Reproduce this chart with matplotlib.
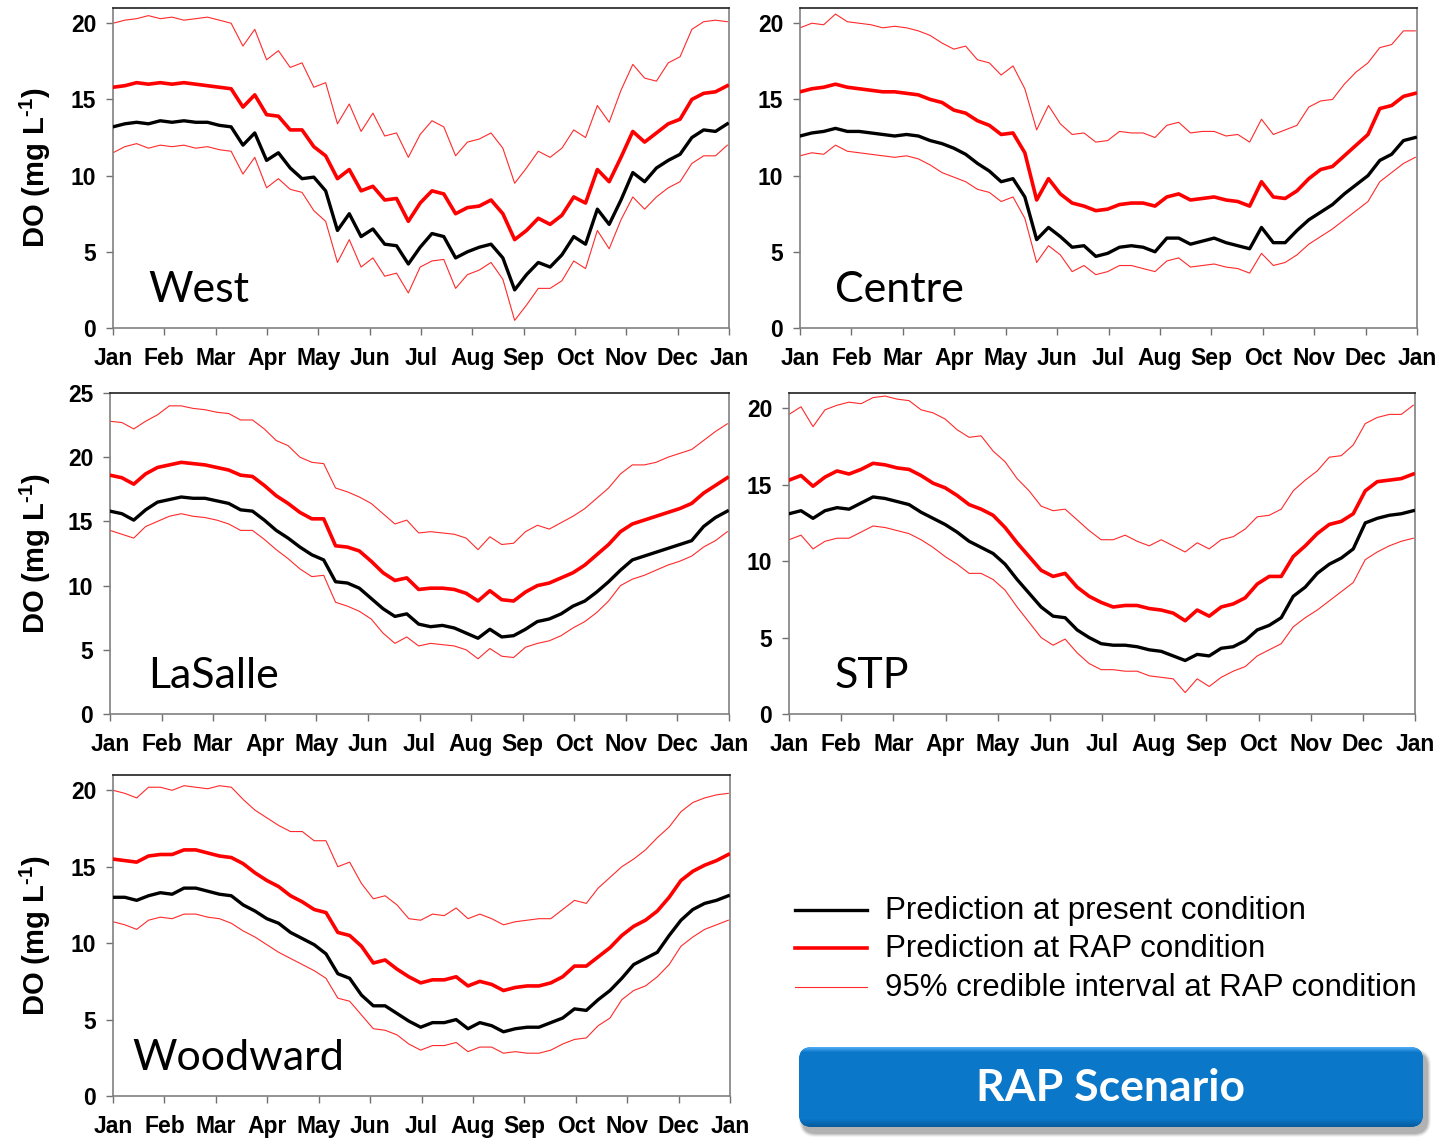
import numpy as np
import matplotlib
matplotlib.use("Agg")
import matplotlib.pyplot as plt
from matplotlib.patches import FancyBboxPatch
from matplotlib.lines import Line2D

plt.rcParams['font.family'] = ['Liberation Sans', 'DejaVu Sans']
plt.rcParams['mathtext.fontset'] = 'custom'
plt.rcParams['mathtext.bf'] = 'Liberation Sans:bold'
plt.rcParams['mathtext.rm'] = 'Liberation Sans:bold'
plt.rcParams['mathtext.default'] = 'bf'

# ---------------------------------------------------------------- data
# weekly samples over one year (day of year)
days = np.arange(0, 365, 7)
month_labels = ["Jan", "Feb", "Mar", "Apr", "May", "Jun", "Jul",
                "Aug", "Sep", "Oct", "Nov", "Dec", "Jan"]

west_present = [13.2, 13.4, 13.5, 13.4, 13.6, 13.5, 13.6, 13.5, 13.5, 13.3, 13.2,
                12.0, 12.8, 11.0, 11.5, 10.5, 9.8, 9.9, 9.0, 6.4, 7.5,
                6.0, 6.5, 5.5, 5.4, 4.2, 5.3, 6.2, 6.0, 4.6, 5.0,
                5.3, 5.5, 4.6, 2.5, 3.5, 4.3, 4.0, 4.8, 6.0, 5.5,
                7.8, 6.8, 8.4, 10.2, 9.6, 10.5, 11.0, 11.4, 12.5, 13.0,
                12.9, 13.4]
west_rap = [15.8, 15.9, 16.1, 16.0, 16.1, 16.0, 16.1, 16.0, 15.9, 15.8, 15.7,
            14.5, 15.3, 14.0, 13.9, 13.0, 13.0, 11.9, 11.3, 9.8, 10.4,
            9.0, 9.3, 8.4, 8.5, 7.0, 8.2, 9.0, 8.8, 7.5, 7.9,
            8.0, 8.4, 7.5, 5.8, 6.4, 7.2, 6.8, 7.4, 8.6, 8.2,
            10.4, 9.6, 11.2, 12.9, 12.2, 12.8, 13.4, 13.7, 15.0, 15.4,
            15.5, 15.9]
west_upper = [20.0, 20.2, 20.3, 20.5, 20.3, 20.4, 20.2, 20.3, 20.4, 20.2, 20.0,
              18.5, 19.6, 17.6, 18.2, 17.1, 17.4, 15.8, 16.1, 13.4, 14.7,
              12.9, 14.1, 12.6, 12.8, 11.2, 12.7, 13.6, 13.2, 11.3, 12.2,
              12.4, 12.8, 11.8, 9.5, 10.5, 11.6, 11.2, 11.8, 13.0, 12.5,
              14.6, 13.5, 15.6, 17.3, 16.4, 16.2, 17.4, 17.8, 19.6, 20.1,
              20.2, 20.1]
west_lower = [11.5, 11.9, 12.1, 11.8, 12.0, 11.9, 12.0, 11.8, 11.9, 11.7, 11.6,
              10.1, 11.2, 9.2, 9.8, 9.1, 8.9, 7.7, 7.0, 4.3, 5.8,
              4.0, 4.6, 3.4, 3.6, 2.3, 4.0, 4.4, 4.5, 2.6, 3.5,
              3.8, 4.3, 3.2, 0.5, 1.5, 2.6, 2.6, 3.1, 4.4, 3.9,
              6.4, 5.2, 7.1, 8.6, 7.8, 8.6, 9.2, 9.6, 10.8, 11.3,
              11.3, 12.0]

centre_present = [12.6, 12.8, 12.9, 13.1, 12.9, 12.9, 12.8, 12.7, 12.6, 12.7, 12.6,
                  12.3, 12.1, 11.8, 11.4, 10.8, 10.3, 9.6, 9.8, 8.6, 5.8,
                  6.6, 6.0, 5.3, 5.4, 4.7, 4.9, 5.3, 5.4, 5.3, 5.0,
                  5.9, 5.9, 5.5, 5.7, 5.9, 5.6, 5.4, 5.2, 6.6, 5.6,
                  5.6, 6.4, 7.1, 7.6, 8.1, 8.8, 9.4, 10.0, 11.0, 11.4,
                  12.3, 12.5]
centre_rap = [15.5, 15.7, 15.8, 16.0, 15.8, 15.7, 15.6, 15.5, 15.5, 15.4, 15.3,
              15.0, 14.8, 14.3, 14.1, 13.6, 13.3, 12.7, 12.8, 11.5, 8.4,
              9.8, 8.8, 8.2, 8.0, 7.7, 7.8, 8.1, 8.2, 8.2, 8.0,
              8.6, 8.8, 8.4, 8.5, 8.6, 8.4, 8.3, 8.0, 9.6, 8.6,
              8.5, 9.0, 9.8, 10.4, 10.6, 11.3, 12.0, 12.7, 14.4, 14.6,
              15.2, 15.4]
centre_upper = [19.7, 20.0, 19.9, 20.6, 20.1, 20.0, 19.9, 19.7, 19.8, 19.7, 19.5,
                19.2, 18.7, 18.3, 18.5, 17.6, 17.4, 16.6, 17.2, 15.7, 13.0,
                14.6, 13.4, 12.7, 12.8, 12.2, 12.3, 12.9, 12.8, 12.8, 12.5,
                13.3, 13.5, 12.8, 12.9, 12.9, 12.6, 12.7, 12.2, 13.7, 12.7,
                13.0, 13.3, 14.5, 14.9, 15.0, 16.0, 16.8, 17.4, 18.4, 18.6,
                19.5, 19.5]
centre_lower = [11.3, 11.5, 11.4, 12.0, 11.6, 11.5, 11.4, 11.3, 11.2, 11.3, 11.1,
                10.7, 10.2, 9.9, 9.6, 9.1, 8.9, 8.3, 8.6, 7.2, 4.3,
                5.4, 4.8, 3.7, 4.1, 3.5, 3.7, 4.1, 4.1, 3.9, 3.7,
                4.4, 4.6, 4.0, 4.1, 4.2, 4.0, 3.9, 3.6, 4.9, 4.1,
                4.3, 4.8, 5.5, 6.0, 6.5, 7.1, 7.7, 8.3, 9.6, 10.2,
                10.8, 11.2]

lasalle_present = [15.8, 15.6, 15.1, 15.9, 16.5, 16.7, 16.9, 16.8, 16.8, 16.6, 16.4,
                   15.9, 15.8, 15.1, 14.3, 13.7, 13.0, 12.4, 12.0, 10.3, 10.2,
                   9.8, 9.0, 8.2, 7.6, 7.8, 7.0, 6.8, 6.9, 6.7, 6.3,
                   5.9, 6.6, 6.0, 6.1, 6.6, 7.2, 7.4, 7.8, 8.4, 8.8,
                   9.5, 10.3, 11.2, 12.0, 12.3, 12.6, 12.9, 13.2, 13.5, 14.6,
                   15.3, 15.8]
lasalle_rap = [18.6, 18.4, 17.9, 18.7, 19.2, 19.4, 19.6, 19.5, 19.4, 19.2, 19.0,
               18.6, 18.5, 17.8, 17.0, 16.4, 15.7, 15.2, 15.2, 13.1, 13.0,
               12.7, 11.9, 11.0, 10.4, 10.6, 9.7, 9.8, 9.8, 9.7, 9.4,
               8.8, 9.6, 8.9, 8.8, 9.5, 10.0, 10.2, 10.6, 11.0, 11.6,
               12.4, 13.2, 14.2, 14.8, 15.1, 15.4, 15.7, 16.0, 16.4, 17.2,
               17.8, 18.4]
lasalle_upper = [22.8, 22.7, 22.2, 22.8, 23.3, 24.0, 24.0, 23.8, 23.7, 23.5, 23.4,
                 22.9, 22.9, 22.2, 21.3, 20.9, 20.0, 19.6, 19.5, 17.6, 17.3,
                 16.9, 16.4, 15.6, 14.8, 15.1, 14.1, 14.2, 14.1, 14.0, 13.7,
                 12.8, 13.8, 13.2, 13.3, 14.2, 14.7, 14.4, 14.9, 15.4, 16.0,
                 16.8, 17.6, 18.7, 19.4, 19.4, 19.6, 20.0, 20.3, 20.6, 21.3,
                 22.0, 22.6]
lasalle_lower = [14.3, 14.0, 13.7, 14.6, 15.0, 15.4, 15.6, 15.4, 15.3, 15.1, 14.8,
                 14.3, 14.3, 13.6, 12.8, 12.1, 11.3, 10.7, 10.8, 8.7, 8.4,
                 8.0, 7.4, 6.3, 5.5, 6.0, 5.3, 5.5, 5.4, 5.3, 5.0,
                 4.3, 5.1, 4.5, 4.4, 5.2, 5.5, 5.7, 6.1, 6.7, 7.2,
                 7.9, 8.8, 10.0, 10.5, 10.8, 11.2, 11.6, 11.9, 12.3, 13.0,
                 13.5, 14.2]

stp_present = [13.1, 13.3, 12.8, 13.3, 13.5, 13.4, 13.8, 14.2, 14.1, 13.9, 13.7,
               13.2, 12.8, 12.4, 11.9, 11.3, 10.9, 10.5, 9.8, 8.8, 7.9,
               7.0, 6.4, 6.3, 5.5, 5.0, 4.6, 4.5, 4.5, 4.4, 4.2,
               4.1, 3.8, 3.5, 3.9, 3.8, 4.3, 4.4, 4.8, 5.5, 5.8,
               6.3, 7.7, 8.3, 9.2, 9.8, 10.2, 10.8, 12.5, 12.8, 13.0,
               13.1, 13.3]
stp_rap = [15.3, 15.6, 14.9, 15.5, 15.9, 15.7, 16.0, 16.4, 16.3, 16.1, 16.0,
           15.6, 15.1, 14.8, 14.3, 13.7, 13.4, 13.0, 12.2, 11.2, 10.3,
           9.4, 9.0, 9.2, 8.3, 7.7, 7.3, 7.0, 7.1, 7.1, 6.9,
           6.8, 6.6, 6.1, 6.8, 6.4, 7.0, 7.2, 7.6, 8.5, 9.0,
           9.0, 10.3, 11.0, 11.8, 12.4, 12.6, 13.1, 14.6, 15.2, 15.3,
           15.4, 15.7]
stp_upper = [19.6, 20.1, 18.8, 19.9, 20.2, 20.4, 20.3, 20.7, 20.8, 20.6, 20.5,
             19.9, 19.7, 19.3, 18.6, 18.1, 18.2, 17.2, 16.5, 15.4, 14.6,
             13.6, 13.3, 13.4, 12.7, 12.0, 11.4, 11.4, 11.7, 11.3, 11.0,
             11.4, 11.0, 10.6, 11.2, 10.8, 11.4, 11.6, 12.1, 12.9, 13.0,
             13.4, 14.6, 15.3, 15.9, 16.8, 16.9, 17.6, 19.0, 19.4, 19.6,
             19.6, 20.2]
stp_lower = [11.4, 11.7, 10.8, 11.3, 11.5, 11.5, 11.9, 12.3, 12.2, 12.0, 11.8,
             11.4, 10.9, 10.3, 9.8, 9.2, 9.2, 8.8, 8.1, 7.0, 6.0,
             5.0, 4.5, 4.9, 4.0, 3.3, 2.9, 2.9, 2.8, 2.8, 2.5,
             2.4, 2.3, 1.4, 2.3, 1.8, 2.4, 2.8, 3.1, 3.8, 4.2,
             4.6, 5.7, 6.3, 6.8, 7.4, 8.0, 8.6, 10.1, 10.6, 11.0,
             11.3, 11.5]

woodward_present = [13.0, 13.0, 12.8, 13.1, 13.3, 13.2, 13.6, 13.6, 13.4, 13.2, 13.1,
                    12.5, 12.1, 11.6, 11.3, 10.7, 10.3, 9.9, 9.3, 8.0, 7.7,
                    6.6, 5.9, 5.9, 5.4, 4.9, 4.5, 4.8, 4.8, 5.0, 4.4,
                    4.8, 4.6, 4.2, 4.4, 4.5, 4.5, 4.8, 5.1, 5.7, 5.6,
                    6.3, 6.9, 7.7, 8.6, 9.0, 9.4, 10.5, 11.5, 12.2, 12.6,
                    12.8, 13.1]
woodward_rap = [15.5, 15.4, 15.3, 15.7, 15.8, 15.8, 16.1, 16.1, 15.9, 15.7, 15.6,
                15.2, 14.6, 14.1, 13.7, 13.1, 12.7, 12.2, 12.0, 10.7, 10.5,
                9.8, 8.7, 8.9, 8.3, 7.8, 7.4, 7.6, 7.6, 7.8, 7.2,
                7.5, 7.3, 6.9, 7.1, 7.2, 7.2, 7.4, 7.8, 8.5, 8.5,
                9.1, 9.7, 10.5, 11.1, 11.5, 12.1, 13.0, 14.1, 14.7, 15.1,
                15.4, 15.8]
woodward_upper = [20.0, 19.8, 19.5, 20.2, 20.2, 20.0, 20.3, 20.2, 20.1, 20.3, 20.2,
                  19.4, 18.7, 18.2, 17.7, 17.3, 17.3, 16.7, 16.7, 15.0, 15.3,
                  13.9, 12.9, 13.1, 12.5, 11.6, 11.5, 11.9, 11.8, 12.3, 11.6,
                  11.9, 11.6, 11.2, 11.4, 11.5, 11.6, 11.6, 12.2, 12.8, 12.6,
                  13.6, 14.3, 15.0, 15.5, 16.1, 16.9, 17.6, 18.6, 19.2, 19.5,
                  19.7, 19.8]
woodward_lower = [11.4, 11.2, 10.9, 11.5, 11.7, 11.6, 11.9, 11.9, 11.7, 11.6, 11.3,
                  10.8, 10.4, 9.9, 9.4, 9.0, 8.6, 8.2, 7.7, 6.4, 6.2,
                  5.3, 4.4, 4.3, 4.0, 3.4, 3.0, 3.3, 3.3, 3.5, 2.9,
                  3.2, 3.2, 2.8, 2.9, 2.8, 2.8, 3.0, 3.4, 3.7, 3.8,
                  4.6, 5.1, 6.3, 6.9, 7.2, 7.8, 8.6, 9.8, 10.4, 10.9,
                  11.2, 11.5]

legend_labels = ["Prediction at present condition",
                 "Prediction at RAP condition",
                 "95% credible interval at RAP condition"]

# ---------------------------------------------------------------- figure
W, H = 1443, 1138
fig = plt.figure(figsize=(W / 100, H / 100), dpi=100)
fig.patch.set_facecolor("white")


def px_axes(left, top, right, bottom):
    """Axes placed with pixel edges measured from the top-left corner."""
    return fig.add_axes([left / W, 1 - bottom / H, (right - left) / W, (bottom - top) / H])


panels = [
    ("West", (113, 8, 729, 328), 21, [0, 5, 10, 15, 20], True, 0.057,
     west_present, west_rap, west_upper, west_lower),
    ("Centre", (800, 8, 1417, 328), 21, [0, 5, 10, 15, 20], False, 0.057,
     centre_present, centre_rap, centre_upper, centre_lower),
    ("LaSalle", (110, 393, 729, 714), 25, [0, 5, 10, 15, 20, 25], True, 0.061,
     lasalle_present, lasalle_rap, lasalle_upper, lasalle_lower),
    ("STP", (789, 393, 1415, 714), 21, [0, 5, 10, 15, 20], False, 0.073,
     stp_present, stp_rap, stp_upper, stp_lower),
    ("Woodward", (113, 775, 730, 1096), 21, [0, 5, 10, 15, 20], True, 0.032,
     woodward_present, woodward_rap, woodward_upper, woodward_lower),
]

for name, box, ymax, yticks, show_ylabel, tx, present, rap, upper, lower in panels:
    ax = px_axes(*box)
    ax.plot(days, upper, color="#ff2a2a", lw=0.8, zorder=2)
    ax.plot(days, lower, color="#ff2a2a", lw=0.8, zorder=2)
    ax.plot(days, rap, color="#ff0000", lw=2.6, zorder=3)
    ax.plot(days, present, color="#000000", lw=2.4, zorder=4)

    ax.set_xlim(0, 365)
    ax.set_ylim(0, ymax)
    ax.set_xticks(np.linspace(0, 365, 13))
    ax.set_xticklabels(month_labels)
    ax.set_yticks(yticks)
    ax.tick_params(axis="x", length=5, width=1, color="#707070", pad=9,
                   labelsize=16.5)
    ax.tick_params(axis="y", length=5, width=1, color="#707070", pad=7,
                   labelsize=16.5)
    for lab in ax.get_xticklabels() + ax.get_yticklabels():
        lab.set_fontweight("bold")
    for side in ("left", "bottom", "right"):
        ax.spines[side].set_color("#808080")
        ax.spines[side].set_linewidth(1.2)
    ax.spines["top"].set_color("#202020")
    ax.spines["top"].set_linewidth(1.2)

    ax.text(tx, 0.08, name, transform=ax.transAxes, fontsize=31,
            family=["Lato", "DejaVu Sans"], va="baseline", ha="left")

    if show_ylabel:
        cy = (box[1] + box[3]) / 2
        fig.text(35 / W, 1 - cy / H, r"DO (mg L$^{\text{-1}}$)", rotation=90,
                 ha="center", va="center", fontsize=21, fontweight="bold")

# ---------------------------------------------------------------- legend
legend_styles = [("#000000", 2.4), ("#ff0000", 2.6), ("#ff2a2a", 0.8)]
legend_y = [910, 948, 987]
for (col, lw), y, text in zip(legend_styles, legend_y, legend_labels):
    fig.add_artist(Line2D([795 / W, 867 / W], [1 - y / H, 1 - y / H],
                          transform=fig.transFigure, color=col, lw=lw))
    fig.text(885 / W, 1 - (y + 1) / H, text, fontsize=22.5, ha="left",
             va="center")

# ---------------------------------------------------------------- button
bx = fig.add_axes([785 / W, 0, 658 / W, 100 / H])
bx.set_xlim(785, 1443)
bx.set_ylim(1138, 1038)
bx.axis("off")

x0, y0, bw, bh, r = 799, 1047, 624, 80, 13
for k, a in enumerate([0.05, 0.07, 0.09, 0.12]):
    grow = 4 - k
    sh = FancyBboxPatch((x0 + 4 - grow, y0 + 6 - grow), bw + 2 * grow, bh + 2 * grow,
                        boxstyle=f"round,pad=0,rounding_size={r + grow}",
                        facecolor="black", edgecolor="none", alpha=a)
    bx.add_patch(sh)

body = FancyBboxPatch((x0, y0), bw, bh, boxstyle=f"round,pad=0,rounding_size={r}",
                      facecolor="#0a78c8", edgecolor="none")
bx.add_patch(body)

rows = np.linspace(0, 1, bh)
top_col = np.array([0.30, 0.66, 0.95])
mid_col = np.array([0.04, 0.47, 0.79])
bot_col = np.array([0.03, 0.36, 0.62])
grad = np.zeros((bh, 2, 3))
for i, t in enumerate(rows):
    if t < 0.06:
        c = top_col + (mid_col - top_col) * (t / 0.06)
    elif t < 0.9:
        c = mid_col
    else:
        c = mid_col + (bot_col - mid_col) * ((t - 0.9) / 0.1)
    grad[i, :, :] = c
im = bx.imshow(grad, extent=(x0, x0 + bw, y0 + bh, y0), aspect="auto",
               interpolation="bilinear", zorder=3)
im.set_clip_path(body)

bx.text(x0 + bw / 2, y0 + bh / 2 + 1, "RAP Scenario", color="white",
        fontsize=32, fontweight="bold", family=["Lato", "DejaVu Sans"],
        ha="center", va="center", zorder=4)

fig.savefig("out.png", dpi=100, facecolor="white")
